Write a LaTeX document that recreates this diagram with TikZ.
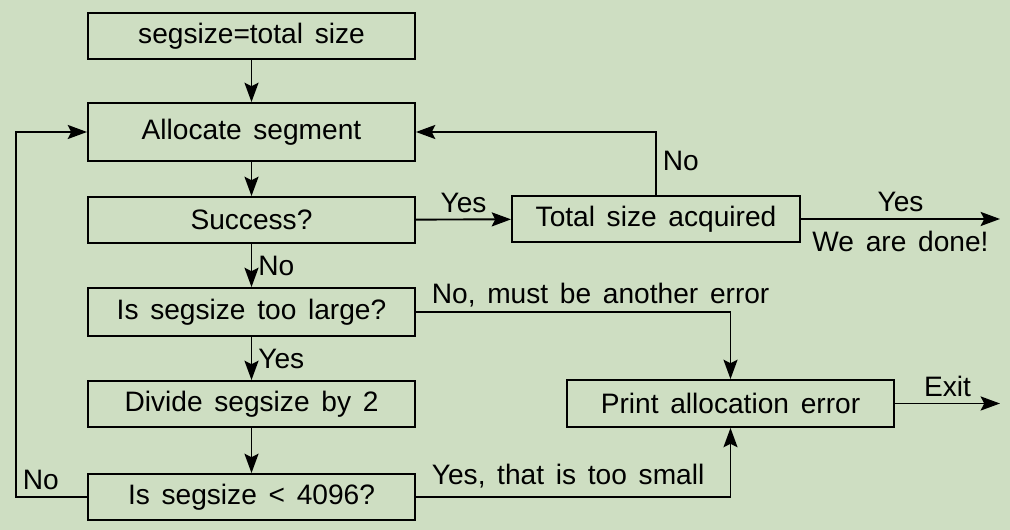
\documentclass[tikz,border=0pt]{standalone}
\usepackage{fontspec}
\setmainfont{Liberation Sans}[WordSpace=1.5]
\usetikzlibrary{arrows.meta}

\definecolor{paper}{RGB}{206,222,194}
\newcommand{\boxwd}{6.54cm}
\newcommand{\farx}{20}
\tikzset{step box/.style={draw,line width=1.1pt,minimum width=\boxwd,minimum height=0.92cm,inner sep=0pt},
         flow/.style={line width=1.1pt,-{Stealth[length=11pt,width=8pt,inset=2pt]}},
         tag/.style={anchor=base west,inner sep=0pt,xshift=8.5pt}}

\begin{document}
\begin{tikzpicture}[font=\fontsize{16}{19}\selectfont]
    % draw the background
    \fill[paper] (0,0) rectangle (20.2,10.6);
    % draw the boxes of the left column
    \node[step box] (init) at (5.03,9.88) {segsize=total size};
    \node[step box,minimum height=1.16cm] (alloc) at (5.03,7.96) {Allocate segment};
    \node[step box] (success) at (5.03,6.20) {Success?};
    \node[step box,minimum height=0.96cm] (large) at (5.03,4.36) {Is segsize too large?};
    \node[step box] (divide) at (5.03,2.52) {Divide segsize by 2};
    \node[step box] (small) at (5.03,0.66) {Is segsize < 4096?};
    % draw the boxes on the right
    \node[step box,minimum width=5.76cm] (total) at (13.12,6.22) {Total size acquired};
    \node[step box,minimum height=0.94cm] (print) at (14.61,2.53) {Print allocation error};
    % free ends
    \coordinate (loop) at (0.32,0.66);
    \coordinate (done) at (\farx,6.22);
    \coordinate (exit) at (\farx,2.53);
    % draw the main flow downwards
    \draw[flow] (init) -- (alloc);
    \draw[flow] (alloc) -- (success);
    \draw[flow] (success) -- node[right] {No} (large);
    \draw[flow] (large) -- node[right] {Yes} (divide);
    \draw[flow] (divide) -- (small);
    % draw the loop back to the allocation
    \draw[flow] (small.west) -- (loop) node[above right] {No} |- (alloc.west);
    \draw[flow] (success) -- node[above] {Yes} (total);
    \draw[flow] (total.north) |- node[pos=0.27,right] {No} (alloc.east);
    \draw[flow] (total) -- node[above] {Yes} node[below,yshift=-3pt] {We are done!} (done);
    % draw the error branches
    \draw[flow] (large.east) node[tag,yshift=5pt] {No, must be another error} -| (print.north);
    \draw[flow] (small.east) node[tag,yshift=7pt] {Yes, that is too small} -| (print.south);
    \draw[flow] (print) -- node[above] {Exit} (exit);
\end{tikzpicture}
\end{document}
